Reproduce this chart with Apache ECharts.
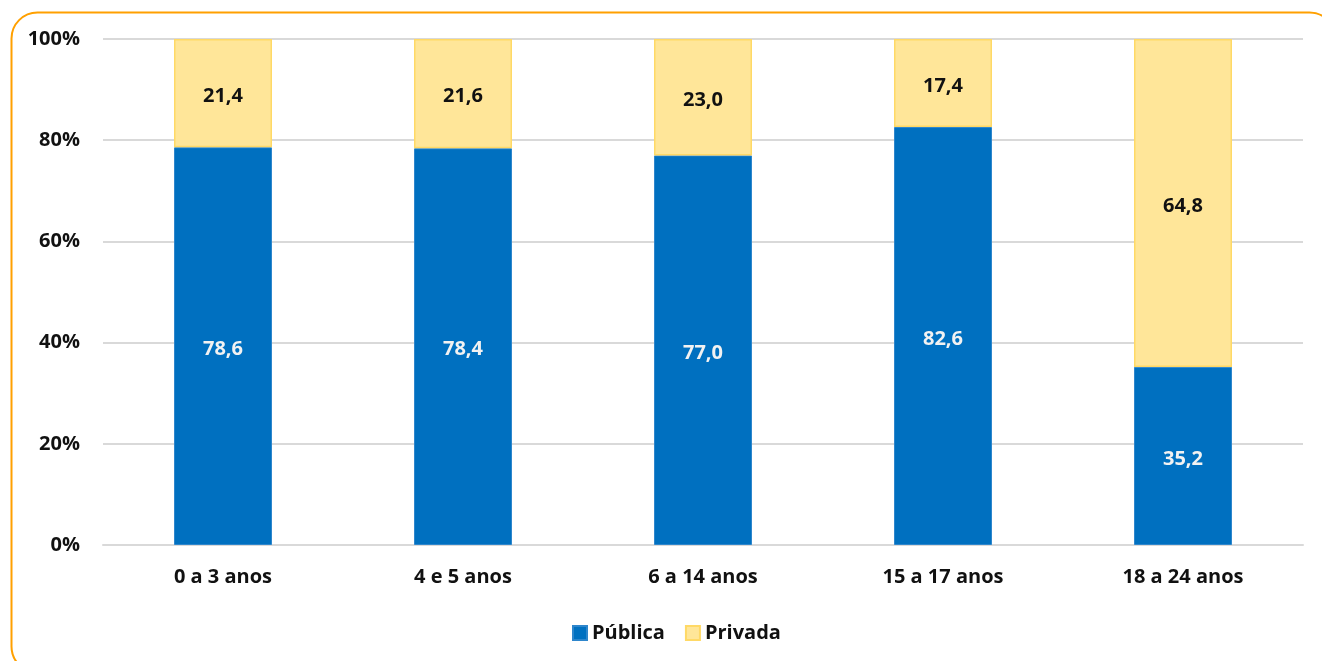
<!DOCTYPE html>
<html>
<head>
<meta charset="utf-8">
<script src="https://cdn.jsdelivr.net/npm/echarts@6/dist/echarts.min.js"></script>
<style>
  html, body { margin: 0; padding: 0; background: #ffffff; }
  #chart { width: 1322px; height: 661px; }
</style>
</head>
<body>
<div id="chart"></div>
<script>
// Faixas etárias e distribuição das matrículas por rede (%)
const categories = ['0 a 3 anos', '4 e 5 anos', '6 a 14 anos', '15 a 17 anos', '18 a 24 anos'];
const publica = [78.6, 78.4, 77.0, 82.6, 35.2];
const privada = [21.4, 21.6, 23.0, 17.4, 64.8];
const yTicks = [0, 20, 40, 60, 80, 100];

const FONT = '"Open Sans", "Noto Sans", sans-serif';
const fmt = v => v.toFixed(1).replace('.', ',');

const chart = echarts.init(document.getElementById('chart'));
chart.setOption({
  animation: false,
  backgroundColor: '#ffffff',
  graphic: [{
    type: 'rect',
    left: 9, top: 10,
    shape: { width: 1324, height: 660, r: 26 },
    style: { fill: 'none', stroke: '#FFA000', lineWidth: 2 },
    silent: true,
    z: -1
  }],
  grid: { left: 103, right: 19, top: 39, bottom: 116, containLabel: false },
  legend: {
    top: 618,
    left: 567,
    itemWidth: 14,
    itemHeight: 14,
    itemGap: 20,
    icon: 'rect',
    textStyle: { fontFamily: FONT, fontWeight: 'bold', fontSize: 20, color: '#111111' },
    data: ['Pública', 'Privada']
  },
  xAxis: {
    type: 'category',
    data: categories,
    axisLine: { show: true, lineStyle: { color: '#d9d9d9', width: 2 } },
    axisTick: { show: false },
    axisLabel: { fontFamily: FONT, fontWeight: 'bold', fontSize: 20, color: '#111111', margin: 22 }
  },
  yAxis: {
    type: 'value',
    min: yTicks[0],
    max: yTicks[yTicks.length - 1],
    interval: 20,
    axisLine: { show: false },
    axisTick: { show: false },
    splitLine: { lineStyle: { color: '#d9d9d9', width: 2 } },
    axisLabel: {
      fontFamily: FONT, fontWeight: 'bold', fontSize: 20, color: '#111111', margin: 23,
      formatter: v => v + '%'
    }
  },
  series: [
    {
      name: 'Pública',
      type: 'bar',
      stack: 'total',
      barWidth: 98,
      data: publica,
      itemStyle: { color: '#0070C0', borderColor: '#2E86CC', borderWidth: 1 },
      label: {
        show: true, position: 'inside', offset: [0, 3],
        fontFamily: FONT, fontWeight: 'bold', fontSize: 20, color: '#f2f2f2',
        formatter: p => fmt(p.value)
      }
    },
    {
      name: 'Privada',
      type: 'bar',
      stack: 'total',
      barWidth: 98,
      data: privada,
      itemStyle: { color: '#FFE699', borderColor: '#FFD966', borderWidth: 1.5 },
      label: {
        show: true, position: 'inside', offset: [0, 3],
        fontFamily: FONT, fontWeight: 'bold', fontSize: 20, color: '#111111',
        formatter: p => fmt(p.value)
      }
    }
  ]
});
</script>
</body>
</html>
